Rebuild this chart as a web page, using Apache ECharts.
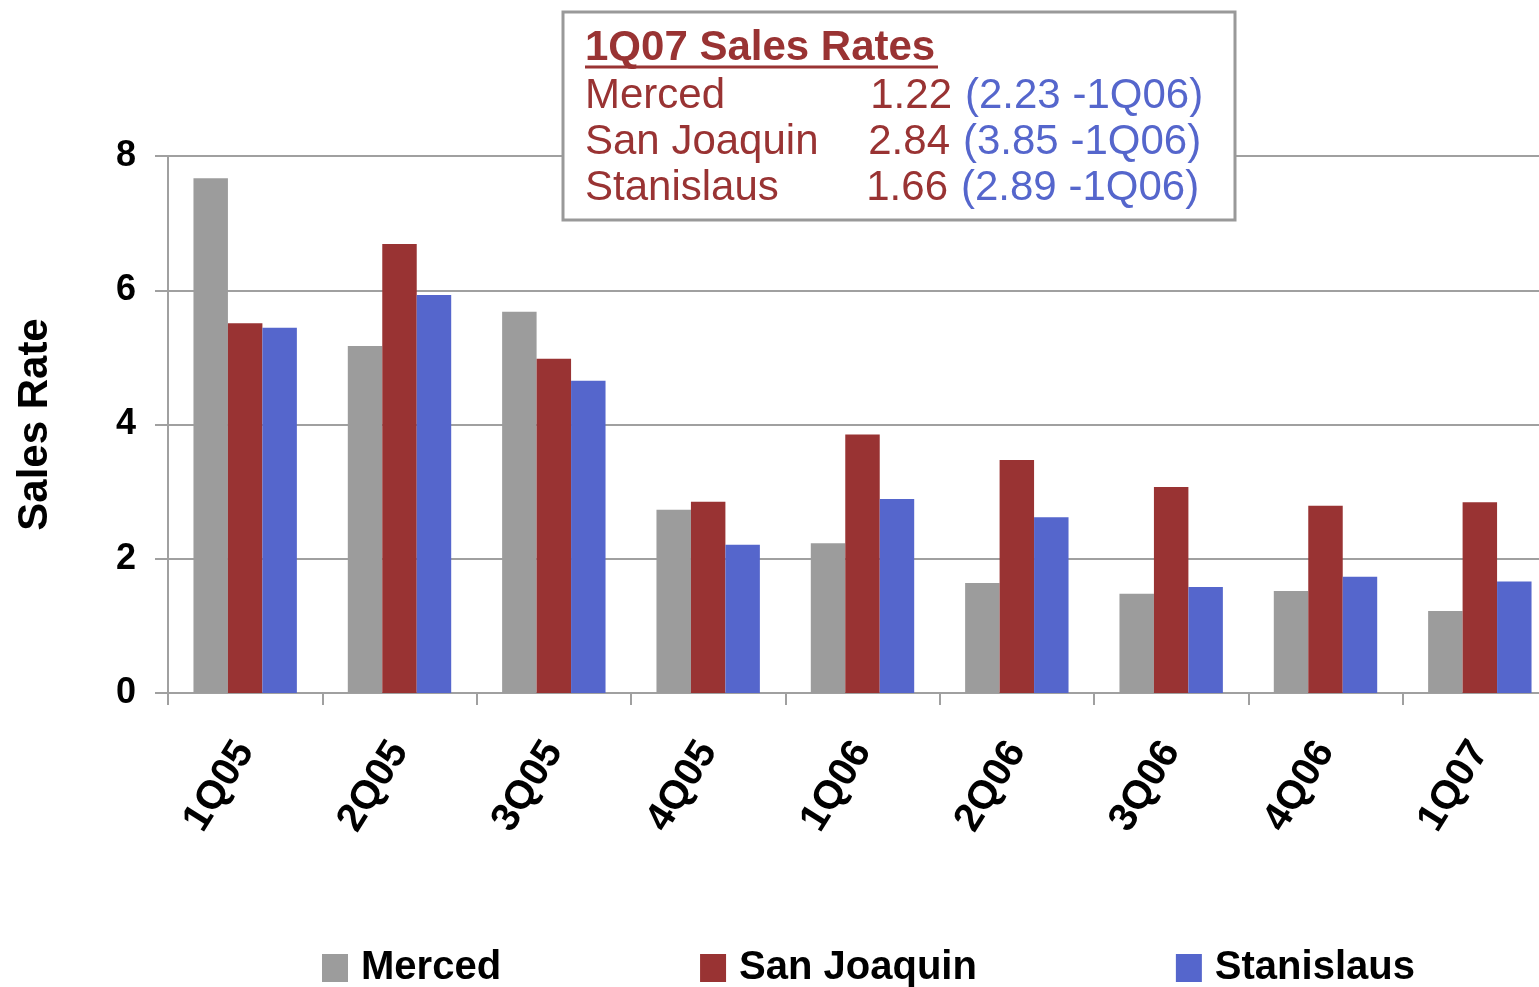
<!DOCTYPE html>
<html>
<head>
<meta charset="utf-8">
<title>Sales Rates</title>
<script src="https://cdn.jsdelivr.net/npm/echarts@6/dist/echarts.min.js"></script>
<style>
  html, body { margin: 0; padding: 0; background: #fff; }
  #main { width: 1539px; height: 987px; }
</style>
</head>
<body>
<div id="main"></div>
<script>
  // quarters on the x axis
  var quarters = ['1Q05', '2Q05', '3Q05', '4Q05', '1Q06', '2Q06', '3Q06', '4Q06', '1Q07'];
  var seriesNames = ['Merced', 'San Joaquin', 'Stanislaus'];
  var merced = [7.67, 5.17, 5.68, 2.73, 2.23, 1.64, 1.48, 1.52, 1.22];
  var sanJoaquin = [5.51, 6.69, 4.98, 2.85, 3.85, 3.47, 3.07, 2.79, 2.84];
  var stanislaus = [5.44, 5.93, 4.65, 2.21, 2.89, 2.62, 1.58, 1.73, 1.66];
  var yTicks = [0, 2, 4, 6, 8];

  // annotation box: 1Q07 vs 1Q06
  var boxTitle = '1Q07 Sales Rates';
  var boxCurrent = ['1.22', '2.84', '1.66'];
  var boxPrior = ['2.23', '3.85', '2.89'];
  var boxPriorLabel = '1Q06';

  var font = '"Liberation Sans", Arial, sans-serif';
  var red = '#993333';
  var blue = '#5566CC';
  var gray = '#9C9C9C';

  var chart = echarts.init(document.getElementById('main'));

  // rows of the annotation box (text is placed by its top edge)
  var boxRows = [];
  seriesNames.forEach(function (name, i) {
    var top = 75 + i * 46;
    boxRows.push({
      type: 'text', x: 585, y: top, z: 101,
      style: {text: name, fill: red, font: '42px ' + font}
    });
    boxRows.push({
      type: 'text', x: 952 - i * 2, y: top, z: 101,
      style: {text: boxCurrent[i], fill: red, font: '42px ' + font, align: 'right'}
    });
    boxRows.push({
      type: 'text', x: 965 - i * 2, y: top, z: 101,
      style: {text: '(' + boxPrior[i] + ' -' + boxPriorLabel + ')', fill: blue, font: '42px ' + font, align: 'left'}
    });
  });

  chart.setOption({
    animation: false,
    color: [gray, red, blue],
    textStyle: {fontFamily: font},
    grid: {
      left: 168,
      top: 156,
      bottom: 294,
      right: -18,
      outerBoundsMode: 'none'
    },
    legend: {
      data: seriesNames,
      left: 317,
      top: 943,
      itemWidth: 26,
      itemHeight: 28,
      itemGap: 199,
      icon: 'rect',
      textStyle: {
        fontFamily: font,
        fontSize: 40,
        fontWeight: 'bold',
        color: '#000',
        padding: [0, 0, 0, 8]
      }
    },
    xAxis: {
      type: 'category',
      data: quarters,
      axisLine: {lineStyle: {color: '#A0A0A0', width: 2}},
      axisTick: {show: true, length: 12, lineStyle: {color: '#A0A0A0', width: 2}},
      axisLabel: {
        rotate: 58,
        margin: 52,
        interval: 0,
        color: '#000',
        fontFamily: font,
        fontSize: 40,
        fontWeight: 'bold'
      }
    },
    yAxis: {
      type: 'value',
      min: yTicks[0],
      max: yTicks[yTicks.length - 1],
      interval: 2,
      name: 'Sales Rate',
      nameLocation: 'middle',
      nameGap: 112,
      nameTextStyle: {
        color: '#000',
        fontFamily: font,
        fontSize: 42,
        fontWeight: 'bold'
      },
      axisLine: {show: true, lineStyle: {color: '#A0A0A0', width: 2}},
      axisTick: {show: true, length: 13, lineStyle: {color: '#A0A0A0', width: 2}},
      splitLine: {lineStyle: {color: '#A0A0A0', width: 2}},
      axisLabel: {
        margin: 32,
        color: '#000',
        fontFamily: font,
        fontSize: 36,
        fontWeight: 'bold'
      }
    },
    series: [
      {name: seriesNames[0], type: 'bar', data: merced, barGap: '0%', barCategoryGap: '33%'},
      {name: seriesNames[1], type: 'bar', data: sanJoaquin, barGap: '0%', barCategoryGap: '33%'},
      {name: seriesNames[2], type: 'bar', data: stanislaus, barGap: '0%', barCategoryGap: '33%'}
    ],
    graphic: [
      {
        type: 'rect', z: 100,
        shape: {x: 563, y: 12, width: 672, height: 208},
        style: {fill: '#fff', stroke: '#999', lineWidth: 3}
      },
      {
        type: 'text', x: 585, y: 27, z: 101,
        style: {text: boxTitle, fill: red, font: 'bold 42px ' + font}
      },
      {
        type: 'line', z: 101,
        shape: {x1: 585, y1: 67, x2: 938, y2: 67},
        style: {stroke: red, lineWidth: 3}
      }
    ].concat(boxRows)
  });
</script>
</body>
</html>
